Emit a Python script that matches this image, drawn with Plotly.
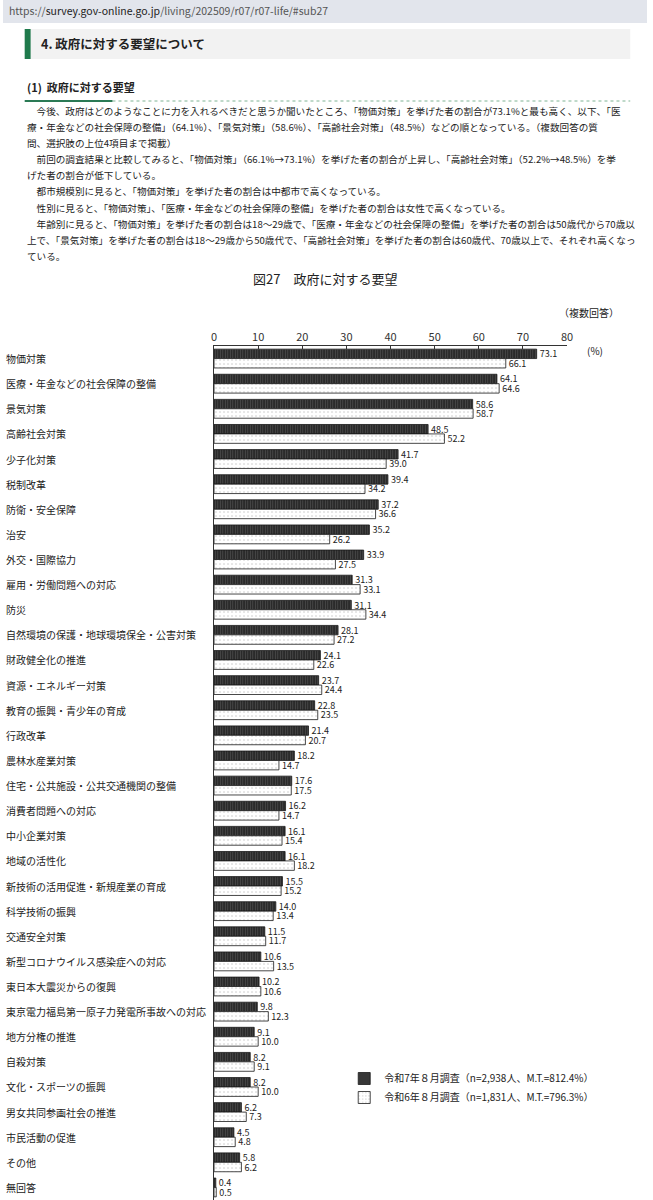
import plotly.graph_objects as go

W, H = 653, 1200

categories = ["物価対策", "医療・年金などの社会保障の整備", "景気対策", "高齢社会対策", "少子化対策",
              "税制改革", "防衛・安全保障", "治安", "外交・国際協力", "雇用・労働問題への対応", "防災",
              "自然環境の保護・地球環境保全・公害対策", "財政健全化の推進", "資源・エネルギー対策",
              "教育の振興・青少年の育成", "行政改革", "農林水産業対策", "住宅・公共施設・公共交通機関の整備",
              "消費者問題への対応", "中小企業対策", "地域の活性化", "新技術の活用促進・新規産業の育成",
              "科学技術の振興", "交通安全対策", "新型コロナウイルス感染症への対応", "東日本大震災からの復興",
              "東京電力福島第一原子力発電所事故への対応", "地方分権の推進", "自殺対策", "文化・スポーツの振興",
              "男女共同参画社会の推進", "市民活動の促進", "その他", "無回答"]

r7_values = [73.1, 64.1, 58.6, 48.5, 41.7, 39.4, 37.2, 35.2, 33.9, 31.3, 31.1, 28.1, 24.1, 23.7, 22.8,
             21.4, 18.2, 17.6, 16.2, 16.1, 16.1, 15.5, 14.0, 11.5, 10.6, 10.2, 9.8, 9.1, 8.2, 8.2,
             6.2, 4.5, 5.8, 0.4]
r6_values = [66.1, 64.6, 58.7, 52.2, 39.0, 34.2, 36.6, 26.2, 27.5, 33.1, 34.4, 27.2, 22.6, 24.4, 23.5,
             20.7, 14.7, 17.5, 14.7, 15.4, 18.2, 15.2, 13.4, 11.7, 13.5, 10.6, 12.3, 10.0, 9.1, 10.0,
             7.3, 4.8, 6.2, 0.5]

r7_name = "令和7年８月調査（n=2,938人、M.T.=812.4%）"
r6_name = "令和6年８月調査（n=1,831人、M.T.=796.3%）"

x_ticks = [0, 10, 20, 30, 40, 50, 60, 70, 80]

url_text = ('https://<span style="color:#222">survey.gov-online.go.jp</span>'
            '/living/202509/r07/r07-life/#sub27')
section_title = "4. 政府に対する要望について"
sub_title = "(1)  政府に対する要望"
paragraph = [
    "　今後、政府はどのようなことに力を入れるべきだと思うか聞いたところ、「物価対策」を挙げた者の割合が73.1%と最も高く、以下、「医",
    "療・年金などの社会保障の整備」（64.1%）、「景気対策」（58.6%）、「高齢社会対策」（48.5%）などの順となっている。（複数回答の質",
    "問、選択肢の上位4項目まで掲載）",
    "　前回の調査結果と比較してみると、「物価対策」（66.1%→73.1%）を挙げた者の割合が上昇し、「高齢社会対策」（52.2%→48.5%）を挙",
    "げた者の割合が低下している。",
    "　都市規模別に見ると、「物価対策」を挙げた者の割合は中都市で高くなっている。",
    "　性別に見ると、「物価対策」、「医療・年金などの社会保障の整備」を挙げた者の割合は女性で高くなっている。",
    "　年齢別に見ると、「物価対策」を挙げた者の割合は18～29歳で、「医療・年金などの社会保障の整備」を挙げた者の割合は50歳代から70歳以",
    "上で、「景気対策」を挙げた者の割合は18～29歳から50歳代で、「高齢社会対策」を挙げた者の割合は60歳代、70歳以上で、それぞれ高くなっ",
    "ている。",
]
chart_title = "図27　政府に対する要望"

FONT = "Noto Sans CJK JP"


def px_x(p):
    return p / W


def px_y(p):
    return 1 - p / H


fig = go.Figure()

fig.add_trace(go.Bar(
    y=categories, x=r7_values, orientation="h", name=r7_name,
    marker=dict(color="#2c2c2c", line=dict(color="#1a1a1a", width=0.8),
                pattern=dict(shape="|", bgcolor="#2a2a2a", fgcolor="#6e6e6e", size=2.5, solidity=0.35)),
    text=r7_values, texttemplate="%{x:.1f}", textposition="outside",
    textfont=dict(size=9, color="#222", family=FONT),
))
fig.add_trace(go.Bar(
    y=categories, x=r6_values, orientation="h", name=r6_name,
    marker=dict(color="white", line=dict(color="#1a1a1a", width=0.8),
                pattern=dict(shape=".", bgcolor="white", fgcolor="#8a8a8a", size=4, solidity=0.12)),
    text=r6_values, texttemplate="%{x:.1f}", textposition="outside",
    textfont=dict(size=9, color="#222", family=FONT),
))

fig.update_traces(constraintext="none", cliponaxis=False)

# plot area in pixels
x0_px, x1_px = 214, 572
y_top_px = 346

fig.update_layout(
    width=W, height=H,
    margin=dict(l=0, r=0, t=0, b=0),
    paper_bgcolor="white", plot_bgcolor="white",
    font=dict(family=FONT, color="#222"),
    barmode="group", bargap=0.25, bargroupgap=0,
    showlegend=True,
    legend=dict(x=px_x(346), y=px_y(1064), xanchor="left", yanchor="top",
                font=dict(size=10, family=FONT, color="#222"),
                bgcolor="rgba(0,0,0,0)", itemwidth=30),
    xaxis=dict(domain=[px_x(x0_px), px_x(x1_px)], range=[0, 80], side="top",
               tickvals=x_ticks, ticks="inside", ticklen=3, tickcolor="#333",
               showline=True, linecolor="#333", linewidth=1, showgrid=False, zeroline=False,
               tickfont=dict(size=11, color="#333", family=FONT), fixedrange=True),
    yaxis=dict(domain=[0, px_y(y_top_px)], type="category", categoryorder="array",
               categoryarray=categories, range=[len(categories) - 0.5, -0.5],
               showticklabels=False, ticks="", showline=True, linecolor="#333", linewidth=1,
               showgrid=False, zeroline=False, fixedrange=True),
)

# category labels, left aligned at the page edge
for c in categories:
    fig.add_annotation(x=0.002, xref="paper", y=c, yref="y", text=c, showarrow=False,
                       xanchor="left", yanchor="middle", font=dict(size=10, color="#222"))

shapes = [
    # browser url bar
    dict(type="rect", x0=0, x1=1, y0=px_y(0), y1=px_y(23), fillcolor="#e2e5ec", line_width=0),
    # heading box
    dict(type="rect", x0=px_x(22), x1=px_x(636), y0=px_y(29), y1=px_y(59), fillcolor="#f2f2f2", line_width=0),
    dict(type="rect", x0=px_x(22), x1=px_x(28), y0=px_y(29), y1=px_y(59), fillcolor="#1f7a4c", line_width=0),
    # sub heading underline
    dict(type="line", x0=px_x(111), x1=px_x(636), y0=px_y(101), y1=px_y(101),
         line=dict(color="#7fb394", width=1, dash="dot")),
    dict(type="line", x0=px_x(22), x1=px_x(111), y0=px_y(101), y1=px_y(101),
         line=dict(color="#2b7a55", width=2)),
]
for s in shapes:
    fig.add_shape(xref="paper", yref="paper", layer="below", **s)

texts = [
    dict(x=4, y=11, text=url_text, size=10.5, color="#555", anchor="left"),
    dict(x=37, y=44, text="<b>" + section_title + "</b>", size=12.5, color="#222", anchor="left"),
    dict(x=22, y=87, text="<b>" + sub_title + "</b>", size=11, color="#222", anchor="left"),
    dict(x=327, y=278, text=chart_title, size=13, color="#222", anchor="center"),
    dict(x=594, y=313, text="（複数回答）", size=10, color="#222", anchor="center"),
    dict(x=590, y=350, text="(%)", size=10, color="#222", anchor="left"),
]
for i, line in enumerate(paragraph):
    texts.append(dict(x=22, y=111 + i * 16.1, text=line, size=9.6, color="#222", anchor="left"))

for t in texts:
    fig.add_annotation(x=px_x(t["x"]), y=px_y(t["y"]), xref="paper", yref="paper", text=t["text"],
                       showarrow=False, xanchor=t["anchor"], yanchor="middle",
                       font=dict(size=t["size"], color=t["color"], family=FONT))

fig.write_html("out.html", config={"displayModeBar": False},
               post_script="document.body.style.margin='0';")
